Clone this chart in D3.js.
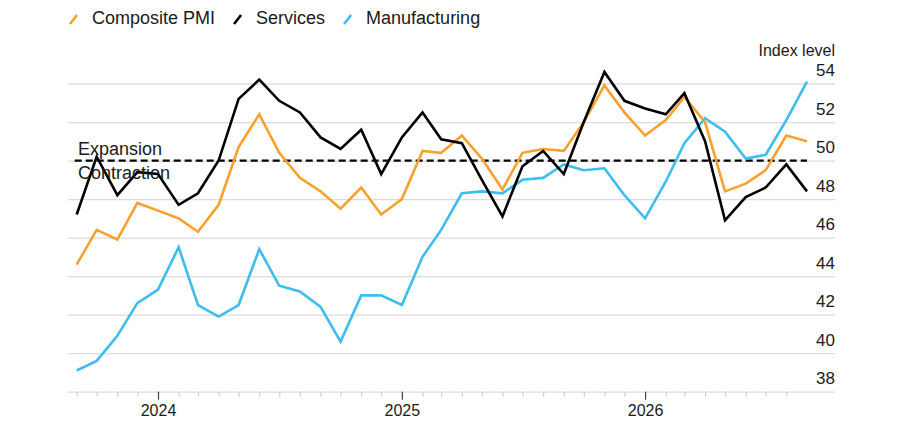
<!DOCTYPE html>
<html>
<head>
<meta charset="utf-8">
<script src="https://cdn.jsdelivr.net/npm/d3@7"></script>
<style>
  body { margin: 0; background: #fff; }
  svg text { font-family: "Liberation Sans", Arial, sans-serif; fill: #1a1a1a; }
</style>
</head>
<body>
<svg id="chart"></svg>
<script>
// monthly readings, Sep 2023 .. Sep 2026
var months = ["2023-09","2023-10","2023-11","2023-12",
  "2024-01","2024-02","2024-03","2024-04","2024-05","2024-06","2024-07","2024-08","2024-09","2024-10","2024-11","2024-12",
  "2025-01","2025-02","2025-03","2025-04","2025-05","2025-06","2025-07","2025-08","2025-09","2025-10","2025-11","2025-12",
  "2026-01","2026-02","2026-03","2026-04","2026-05","2026-06","2026-07","2026-08","2026-09"];

var composite = [44.6, 46.4, 45.9, 47.8,
  47.4, 47.0, 46.3, 47.7, 50.7, 52.4, 50.4, 49.1, 48.4, 47.5, 48.6, 47.2,
  48.0, 50.5, 50.4, 51.3, 50.1, 48.5, 50.4, 50.6, 50.5, 52.0, 53.9, 52.5,
  51.3, 52.1, 53.3, 52.0, 48.4, 48.8, 49.5, 51.3, 51.0];

var services = [47.2, 50.2, 48.2, 49.4,
  49.3, 47.7, 48.3, 50.0, 53.2, 54.2, 53.1, 52.5, 51.2, 50.6, 51.6, 49.3,
  51.2, 52.5, 51.1, 50.9, 49.0, 47.1, 49.7, 50.5, 49.3, 52.0, 54.6, 53.1,
  52.7, 52.4, 53.5, 51.0, 46.9, 48.1, 48.6, 49.8, 48.4];

var manufacturing = [39.1, 39.6, 40.9, 42.6,
  43.3, 45.5, 42.5, 41.9, 42.5, 45.4, 43.5, 43.2, 42.4, 40.6, 43.0, 43.0,
  42.5, 45.0, 46.4, 48.3, 48.4, 48.3, 49.0, 49.1, 49.8, 49.5, 49.6, 48.2,
  47.0, 48.9, 50.9, 52.2, 51.5, 50.1, 50.3, 52.1, 54.1];

var yTicks = [38, 40, 42, 44, 46, 48, 50, 52, 54];
var yearTicks = ["2024-01", "2025-01", "2026-01"];

var seriesList = [
  {name: "Composite PMI", values: composite, color: "#f9a12e"},
  {name: "Services", values: services, color: "#000000"},
  {name: "Manufacturing", values: manufacturing, color: "#3dbdf0"}
];

var parseMonth = d3.timeParse("%Y-%m");
var dates = months.map(parseMonth);

var screen = {width: 900, height: 440};
var grid = {left: 68, right: 835};

var svg = d3.select("#chart")
    .attr("width", screen.width)
    .attr("height", screen.height);

var xScale = d3.scaleTime()
    .domain(d3.extent(dates))
    .range([76.7, 807]);

var yScale = d3.scaleLinear()
    .domain([38, 54])
    .range([391.7, 83.5]);

// gridlines + right-hand labels
var yAxis = d3.axisLeft(yScale)
    .tickValues(yTicks)
    .tickSize(grid.right - grid.left)
    .tickFormat(d3.format("d"));

var yG = svg.append("g")
    .attr("transform", "translate(" + grid.right + ",0)")
    .call(yAxis);
yG.select(".domain").remove();
yG.selectAll(".tick line")
    .attr("stroke", "#dcdcdc")
    .attr("stroke-width", 1.3);
yG.selectAll(".tick text")
    .attr("x", 0)
    .attr("dy", null)
    .attr("y", -8)
    .attr("text-anchor", "end")
    .style("font-size", "17px");

svg.append("text")
    .attr("x", grid.right)
    .attr("y", 56)
    .attr("text-anchor", "end")
    .style("font-size", "16px")
    .text("Index level");

// month ticks
var minorTicks = dates.slice(0, dates.length - 1);
var xMinor = d3.axisBottom(xScale)
    .tickValues(minorTicks)
    .tickSize(5)
    .tickFormat("");
var xmG = svg.append("g")
    .attr("transform", "translate(0," + yScale(38) + ")")
    .call(xMinor);
xmG.select(".domain").remove();
xmG.selectAll(".tick line").attr("stroke", "#cfcfcf").attr("stroke-width", 1.2);

var xMajor = d3.axisBottom(xScale)
    .tickValues(yearTicks.map(parseMonth))
    .tickSize(8)
    .tickPadding(8)
    .tickFormat(d3.timeFormat("%Y"));
var xMG = svg.append("g")
    .attr("transform", "translate(0," + yScale(38) + ")")
    .call(xMajor);
xMG.select(".domain").remove();
xMG.selectAll(".tick line").attr("stroke", "#444").attr("stroke-width", 1.2);
xMG.selectAll(".tick text")
    .attr("dy", null)
    .attr("y", 24)
    .style("font-size", "16px")
    .attr("fill", "#1a1a1a");

// expansion / contraction threshold
svg.append("line")
    .attr("x1", xScale(dates[0]) - 2)
    .attr("x2", xScale(dates[dates.length - 1]))
    .attr("y1", yScale(50))
    .attr("y2", yScale(50))
    .attr("stroke", "#000")
    .attr("stroke-width", 2.2)
    .attr("stroke-dasharray", "7,4");

var line = d3.line()
    .x(function(d, i) { return xScale(dates[i]); })
    .y(function(d) { return yScale(d); });

var drawOrder = [seriesList[2], seriesList[0], seriesList[1]];
svg.append("g").selectAll("path")
    .data(drawOrder)
    .enter()
    .append("path")
    .attr("d", function(s) { return line(s.values); })
    .attr("fill", "none")
    .attr("stroke", function(s) { return s.color; })
    .attr("stroke-width", 2.6);

svg.append("text")
    .attr("x", 78)
    .attr("y", 155)
    .style("font-size", "18px")
    .text("Expansion");
svg.append("text")
    .attr("x", 78)
    .attr("y", 179)
    .style("font-size", "18px")
    .text("Contraction");

// legend
var legend = svg.append("g");
var lx = 69;
seriesList.forEach(function(s) {
    var item = legend.append("g").attr("transform", "translate(" + lx + ",0)");
    item.append("line")
        .attr("x1", 1).attr("y1", 24)
        .attr("x2", 8).attr("y2", 15)
        .attr("stroke", s.color)
        .attr("stroke-width", 2.6);
    var t = item.append("text")
        .attr("x", 23)
        .attr("y", 24)
        .style("font-size", "18px")
        .text(s.name);
    lx += 23 + t.node().getComputedTextLength() + 18;
});
</script>
</body>
</html>
